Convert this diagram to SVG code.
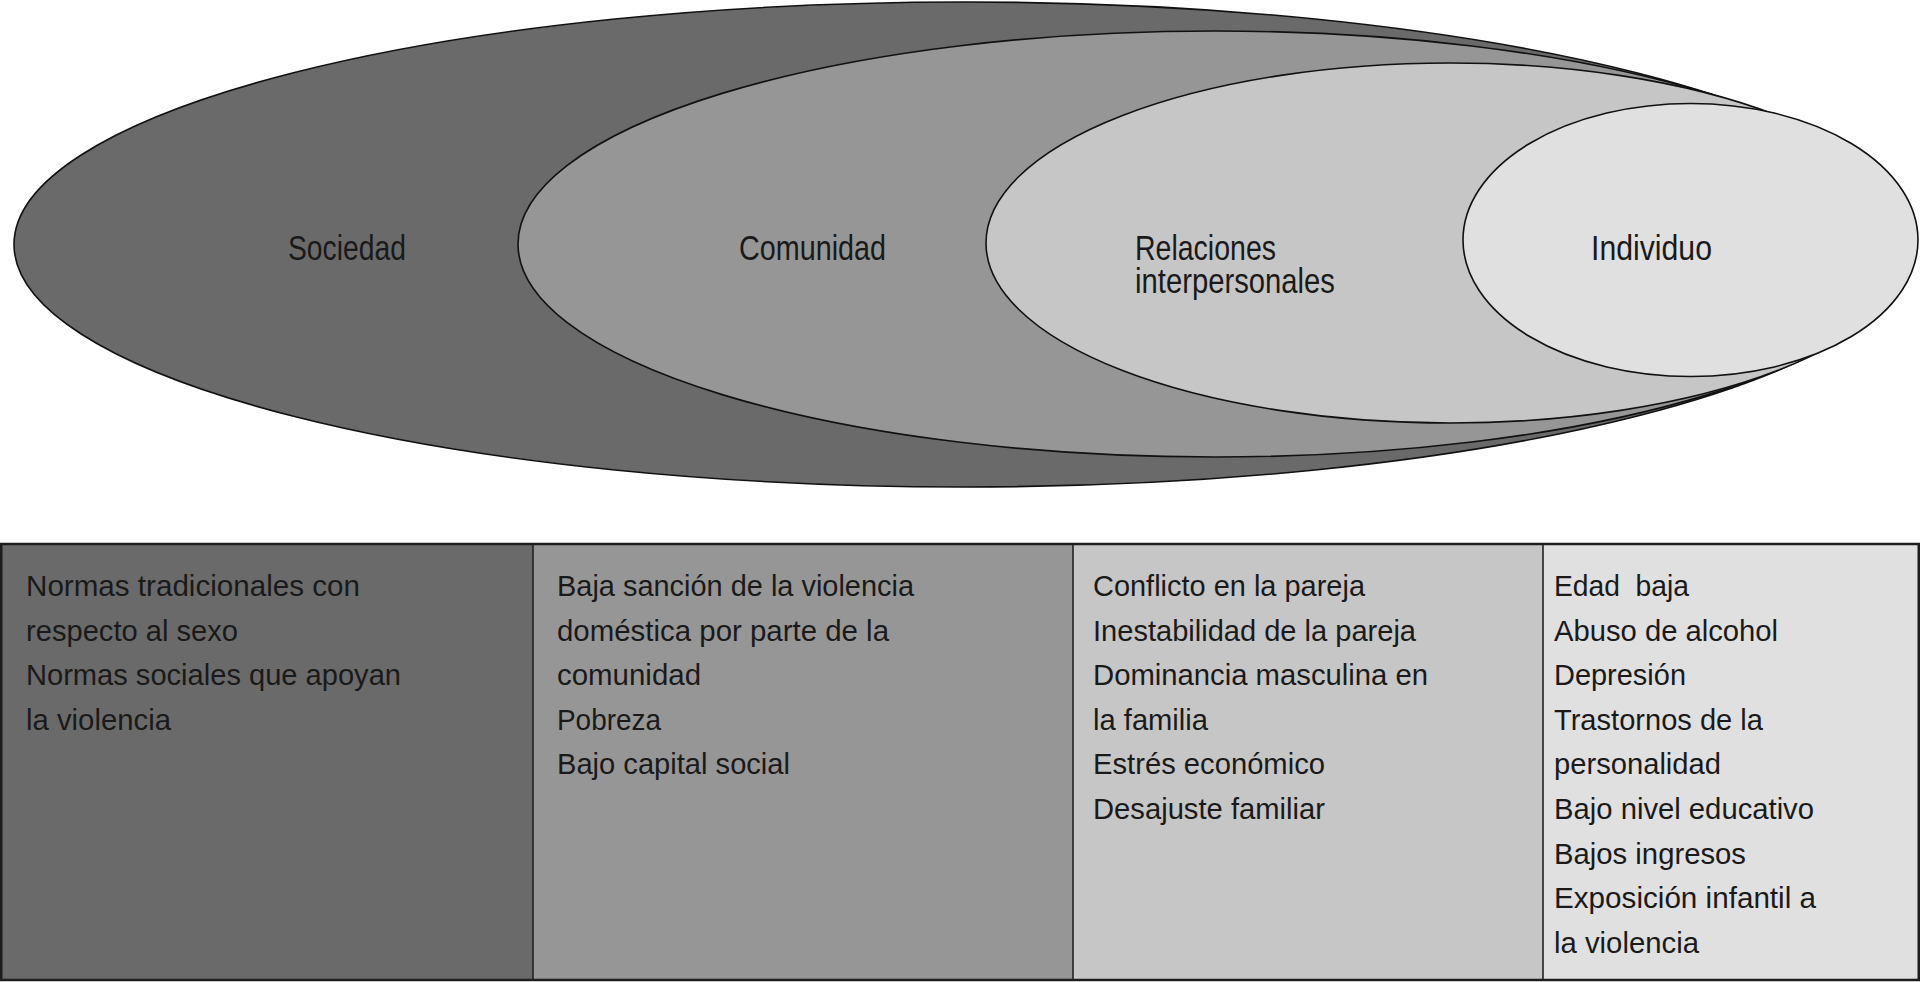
<svg xmlns="http://www.w3.org/2000/svg" width="1920" height="982" viewBox="0 0 1920 982">
<style>
.ell{stroke:#111;stroke-width:1.6}
.lbl{font-family:"Liberation Sans Narrow","Liberation Sans",Arial,sans-serif;font-size:35px;fill:#1a1a1a}
.txt{font-family:"Liberation Sans","Liberation Sans Narrow",Arial,sans-serif;font-size:30px;fill:#1a1a1a}
.col{stroke:#222;stroke-width:1.6}
</style>
<rect width="1920" height="982" fill="#ffffff"/>
<g id="sociedad">
<ellipse class="ell" cx="965" cy="244.5" rx="951" ry="242.5" fill="#6a6a6a"/>
<text class="lbl" x="288" y="260" textLength="118" lengthAdjust="spacingAndGlyphs">Sociedad</text>
</g>
<g id="comunidad">
<ellipse class="ell" cx="1215" cy="244" rx="697" ry="213" fill="#969696"/>
<text class="lbl" x="739" y="260" textLength="147" lengthAdjust="spacingAndGlyphs">Comunidad</text>
</g>
<g id="relaciones">
<ellipse class="ell" cx="1450" cy="243" rx="464" ry="180" fill="#c6c6c6"/>
<text class="lbl" x="1135" y="260" textLength="141" lengthAdjust="spacingAndGlyphs">Relaciones</text>
<text class="lbl" x="1135" y="293" textLength="200" lengthAdjust="spacingAndGlyphs">interpersonales</text>
</g>
<g id="individuo">
<ellipse class="ell" cx="1690.5" cy="240" rx="227.5" ry="136.5" fill="#e0e0e0"/>
<text class="lbl" x="1591" y="260" textLength="121" lengthAdjust="spacingAndGlyphs">Individuo</text>
</g>
<g id="tabla">
<rect x="1" y="544" width="532" height="436" fill="#6a6a6a"/>
<rect x="533" y="544" width="540" height="436" fill="#969696"/>
<rect x="1073" y="544" width="470" height="436" fill="#c6c6c6"/>
<rect x="1543" y="544" width="376" height="436" fill="#e0e0e0"/>
<line class="col" x1="533" y1="544" x2="533" y2="980"/>
<line class="col" x1="1073" y1="544" x2="1073" y2="980"/>
<line class="col" x1="1543" y1="544" x2="1543" y2="980"/>
<rect x="1.25" y="544" width="1917.5" height="436" fill="none" stroke="#1e1e1e" stroke-width="2.5"/>
</g>
<g id="col-sociedad">
<text class="txt" x="26" y="596" textLength="334" lengthAdjust="spacingAndGlyphs">Normas tradicionales con</text>
<text class="txt" x="26" y="640.6" textLength="212" lengthAdjust="spacingAndGlyphs">respecto al sexo</text>
<text class="txt" x="26" y="685.2" textLength="375" lengthAdjust="spacingAndGlyphs">Normas sociales que apoyan</text>
<text class="txt" x="26" y="729.8" textLength="145" lengthAdjust="spacingAndGlyphs">la violencia</text>
</g>
<g id="col-comunidad">
<text class="txt" x="557" y="596" textLength="357" lengthAdjust="spacingAndGlyphs">Baja sanción de la violencia</text>
<text class="txt" x="557" y="640.6" textLength="332" lengthAdjust="spacingAndGlyphs">doméstica por parte de la</text>
<text class="txt" x="557" y="685.2" textLength="144" lengthAdjust="spacingAndGlyphs">comunidad</text>
<text class="txt" x="557" y="729.8" textLength="104" lengthAdjust="spacingAndGlyphs">Pobreza</text>
<text class="txt" x="557" y="774.4" textLength="233" lengthAdjust="spacingAndGlyphs">Bajo capital social</text>
</g>
<g id="col-relaciones">
<text class="txt" x="1093" y="596" textLength="272" lengthAdjust="spacingAndGlyphs">Conflicto en la pareja</text>
<text class="txt" x="1093" y="640.6" textLength="323" lengthAdjust="spacingAndGlyphs">Inestabilidad de la pareja</text>
<text class="txt" x="1093" y="685.2" textLength="335" lengthAdjust="spacingAndGlyphs">Dominancia masculina en</text>
<text class="txt" x="1093" y="729.8" textLength="115" lengthAdjust="spacingAndGlyphs">la familia</text>
<text class="txt" x="1093" y="774.4" textLength="232" lengthAdjust="spacingAndGlyphs">Estrés económico</text>
<text class="txt" x="1093" y="819" textLength="232" lengthAdjust="spacingAndGlyphs">Desajuste familiar</text>
</g>
<g id="col-individuo">
<text class="txt" x="1554" y="596" textLength="135" lengthAdjust="spacingAndGlyphs" xml:space="preserve">Edad  baja</text>
<text class="txt" x="1554" y="640.6" textLength="224" lengthAdjust="spacingAndGlyphs">Abuso de alcohol</text>
<text class="txt" x="1554" y="685.2" textLength="132" lengthAdjust="spacingAndGlyphs">Depresión</text>
<text class="txt" x="1554" y="729.8" textLength="209" lengthAdjust="spacingAndGlyphs">Trastornos de la</text>
<text class="txt" x="1554" y="774.4" textLength="167" lengthAdjust="spacingAndGlyphs">personalidad</text>
<text class="txt" x="1554" y="819" textLength="260" lengthAdjust="spacingAndGlyphs">Bajo nivel educativo</text>
<text class="txt" x="1554" y="863.6" textLength="192" lengthAdjust="spacingAndGlyphs">Bajos ingresos</text>
<text class="txt" x="1554" y="908.2" textLength="262" lengthAdjust="spacingAndGlyphs">Exposición infantil a</text>
<text class="txt" x="1554" y="952.8" textLength="145" lengthAdjust="spacingAndGlyphs">la violencia</text>
</g>
<g id="connectors"></g>
</svg>
